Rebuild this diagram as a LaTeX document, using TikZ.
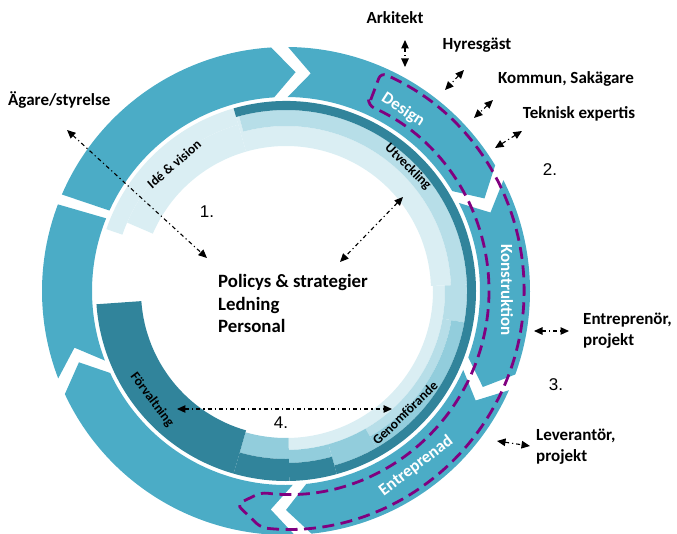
\documentclass[tikz,border=0pt]{standalone}
\usepackage{fontspec}
\setmainfont{Carlito}
\newfontfamily\numfont{Liberation Sans}
\usetikzlibrary{arrows.meta}
\definecolor{ringc}{HTML}{4BACC6}
\definecolor{darkc}{HTML}{31849B}
\definecolor{lightc}{HTML}{DAEEF3}
\definecolor{midc}{HTML}{B7DEE8}
\definecolor{medc}{HTML}{92CDDC}
\definecolor{purp}{HTML}{800080}
% annular sector: color, r inner, r outer, start angle, end angle
\newcommand{\annseg}[5]{\fill[#1] (#4:#3pt) arc[start angle=#4, end angle=#5, radius=#3pt] -- (#5:#2pt) arc[start angle=#5, end angle=#4, radius=#2pt] -- cycle;}
% outer arrow piece: notched tail angle, head angle (tip clockwise)
\newcommand{\arrowpiece}[2]{\fill[ringc] (#1:244pt) arc[start angle=#1, end angle=#2, radius=244pt] -- ({#2-6}:219pt) -- (#2:194pt) arc[start angle=#2, end angle=#1, radius=194pt] -- ({#1-6}:219pt) -- cycle;}
\tikzset{
  darr/.style={line width=1.1pt, dash pattern=on 4pt off 3pt on 1.2pt off 3pt,
    {Triangle[length=8.5pt,width=7.5pt]}-{Triangle[length=8.5pt,width=7.5pt]}},
  extlabel/.style={font=\fontsize{17}{20.5}\selectfont\bfseries, inner sep=0pt},
  numlabel/.style={font=\numfont\fontsize{17}{20}\selectfont, inner sep=0pt},
  seglabel/.style={font=\fontsize{17}{20}\selectfont\bfseries, text=white, inner sep=0pt},
  phaselabel/.style={font=\fontsize{13.5}{16}\selectfont\bfseries, inner sep=0pt},
  pdash/.style={draw=purp, line width=2.8pt, dash pattern=on 12pt off 6.5pt}
}
\begin{document}
\begin{tikzpicture}[x=1pt,y=1pt]
\useasboundingbox (-286,-242) rectangle (391,291);
% ---------- outer ring pieces ----------
% P1: flat tail, tip head
\fill[ringc] (156.7:244pt) arc[start angle=156.7, end angle=93.5, radius=244pt] -- (87.5:219pt) -- (93.5:194pt) arc[start angle=93.5, end angle=155.5, radius=194pt] -- cycle;
\arrowpiece{89.5}{31}   % Design
\arrowpiece{27}{-20}    % Konstruktion
\arrowpiece{-24}{-84}   % Entreprenad
\arrowpiece{-88}{-155}  % lower left
% P6: notched tail, flat head
\fill[ringc] (201:244pt) arc[start angle=201, end angle=159.2, radius=244pt] -- (158:194pt) arc[start angle=158, end angle=201, radius=194pt] -- (195:219pt) -- cycle;
% ---------- inner ring ----------
\annseg{lightc}{173}{190}{161}{106}
\annseg{lightc}{145}{173}{156.7}{106}
\annseg{lightc}{165}{181}{106}{105}
\annseg{lightc}{145}{165}{106}{2}
\annseg{lightc}{147}{159}{2}{-89}
\annseg{midc}{165}{181}{105}{2}
\annseg{midc}{159}{181}{2}{-10}
\annseg{midc}{159}{168}{-10}{-60}
\annseg{medc}{168}{181}{-10}{-60}
\annseg{medc}{159}{181}{-60}{-74.5}
\annseg{medc}{159}{172}{-74.5}{-89}
\annseg{medc}{147}{168}{-89}{-106}
\annseg{darkc}{181}{190}{106}{-74.5}
\annseg{darkc}{172}{190}{-74.5}{-89}
\annseg{darkc}{168}{190}{-89}{-106}
\annseg{darkc}{145}{190}{-106}{-176}
% ---------- purple dashed outline ----------
\draw[pdash, rounded corners=6pt] (66:203pt) -- (66.5:238pt) arc[start angle=66.5, end angle=-96, radius=238pt] -- (-103:219pt) -- (-97:203pt) arc[start angle=-97, end angle=66, radius=203pt] -- cycle;
% ---------- segment labels ----------
\node[seglabel, rotate=-33] (design) at (117,181) {Design};
\node[seglabel, rotate=-90] (konst) at (221,1) {Konstruktion};
\node[seglabel, rotate=37] (entr) at (130,-175) {Entreprenad};
\node[phaselabel, rotate=41] (ide) at (-112,127) {Idé \& vision};
\node[phaselabel, rotate=-44.5] (utv) at (122,124) {Utveckling};
\node[phaselabel, rotate=44] (genom) at (119,-122) {Genomförande};
\node[phaselabel, rotate=-53] (forv) at (-134,-109) {Förvaltning};
% ---------- centre text ----------
\node[font=\fontsize{18.8}{22.5}\selectfont\bfseries, align=left, anchor=west, inner sep=0pt] (policy) at (-68,-12.5) {Policys \& strategier\\Ledning\\Personal};
% ---------- external labels ----------
\node[extlabel, anchor=west] (agare) at (-278,191) {Ägare/styrelse};
\node[extlabel] (ark) at (109,273) {Arkitekt};
\node[extlabel] (hyr) at (191,246) {Hyresgäst};
\node[extlabel] (kom) at (280,212) {Kommun, Sakägare};
\node[extlabel] (tek) at (293,177) {Teknisk expertis};
\node[extlabel, anchor=west, align=left] (entrep) at (297,-39.5) {Entreprenör,\\projekt};
\node[extlabel, anchor=west, align=left] (lev) at (250,-155.5) {Leverantör,\\projekt};
% ---------- numbers ----------
\node[numlabel] (n1) at (-79,79) {1.};
\node[numlabel] (n2) at (264,121) {2.};
\node[numlabel] (n3) at (270,-94) {3.};
\node[numlabel] (n4) at (-5,-132) {4.};
% ---------- arrows ----------
\coordinate (agA) at (-219,161); \coordinate (agB) at (-79,33);
\coordinate (arA) at (119,251);  \coordinate (arB) at (119,224);
\coordinate (hyA) at (178,221);  \coordinate (hyB) at (159,201);
\coordinate (koA) at (207,191);  \coordinate (koB) at (188,173);
\coordinate (teA) at (236,160);  \coordinate (teB) at (209,143);
\coordinate (utA) at (117,94);   \coordinate (utB) at (54,29);
\coordinate (enA) at (248,-40);  \coordinate (enB) at (283,-40);
\coordinate (leA) at (211,-150); \coordinate (leB) at (244,-155);
\coordinate (fvA) at (-109,-118); \coordinate (fvB) at (106,-118);
\draw[darr] (agA) -- (agB);
\draw[darr] (arA) -- (arB);
\draw[darr] (hyA) -- (hyB);
\draw[darr] (koA) -- (koB);
\draw[darr] (teA) -- (teB);
\draw[darr] (utA) -- (utB);
\draw[darr] (enA) -- (enB);
\draw[darr] (leA) -- (leB);
\draw[darr] (fvA) -- (fvB);
\end{tikzpicture}
\end{document}
